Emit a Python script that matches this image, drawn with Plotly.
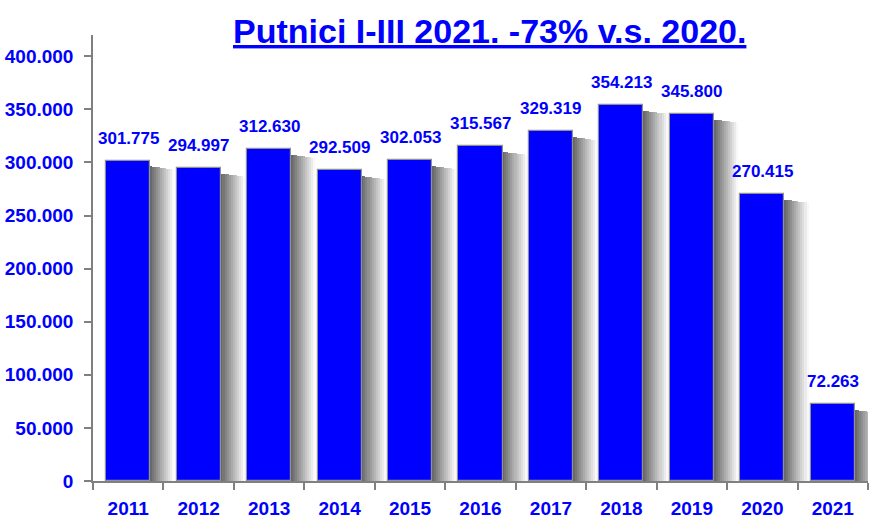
import plotly.graph_objects as go

years = ["2011", "2012", "2013", "2014", "2015", "2016", "2017", "2018", "2019", "2020", "2021"]
passengers = [301775, 294997, 312630, 292509, 302053, 315567, 329319, 354213, 345800, 270415, 72263]
tick_vals = [0, 50000, 100000, 150000, 200000, 250000, 300000, 350000, 400000]
title_text = "Putnici I-III 2021. -73% v.s. 2020."

BLUE = "#0000FF"
FONT = "Liberation Sans, Arial, sans-serif"

BAR_W = 0.625
fig = go.Figure()

# soft shadow to the right of each bar (layers of grey)
n_layers = 12
layer_w = 0.029
for i in range(n_layers):
    g = int(105 + i * 13)
    fig.add_trace(go.Bar(
        x=years,
        y=[v - 5500 - i * 250 for v in passengers],
        width=layer_w,
        offset=BAR_W / 2 + i * layer_w - 0.004,
        marker=dict(color=f"rgb({g},{g},{g})", line=dict(width=0)),
        hoverinfo="skip",
        showlegend=False,
    ))

fig.add_trace(go.Bar(
    x=years,
    y=passengers,
    width=BAR_W,
    offset=-BAR_W / 2,
    marker=dict(color=BLUE, line=dict(color="#909090", width=1.2)),
    showlegend=False,
))

for idx, v in enumerate(passengers):
    fig.add_annotation(
        x=idx, y=v, xref="x", yref="y",
        text=f"{v:,}".replace(",", "."),
        showarrow=False, yanchor="bottom", yshift=11,
        font=dict(family=FONT, size=17, color=BLUE, weight="bold"),
    )

fig.add_annotation(
    x=0.512, y=1.01, xref="paper", yref="paper",
    text=f"<b><u>{title_text}</u></b>",
    showarrow=False, yanchor="middle", xanchor="center",
    font=dict(family=FONT, size=34, color=BLUE),
)

fig.update_layout(
    width=869, height=518,
    margin=dict(l=93, r=1, t=35, b=37, autoexpand=False),
    paper_bgcolor="white", plot_bgcolor="white",
    barmode="overlay",
    separators=",.",
    bargap=0,
    xaxis=dict(
        type="category",
        range=[-0.5, len(years) - 0.5],
        showline=True, linecolor="#808080", linewidth=1.5,
        ticks="outside", tickson="boundaries", ticklen=7, tickcolor="#808080", tickwidth=1.5,
        tickfont=dict(family=FONT, size=19, color=BLUE, weight="bold"),
        tickangle=0,
        ticklabelstandoff=9,
        showgrid=False, zeroline=False,
    ),
    yaxis=dict(
        range=[0, 420000],
        tickvals=tick_vals,
        tickformat=",d",
        showline=True, linecolor="#808080", linewidth=1.5,
        ticks="outside", ticklen=7, tickcolor="#808080", tickwidth=1.5,
        tickfont=dict(family=FONT, size=19, color=BLUE, weight="bold"),
        ticklabelstandoff=7,
        showgrid=False, zeroline=False,
    ),
)

fig.write_html(
    "out.html",
    config={"displayModeBar": False},
    post_script="document.body.style.margin='0';document.body.style.padding='0';",
)
